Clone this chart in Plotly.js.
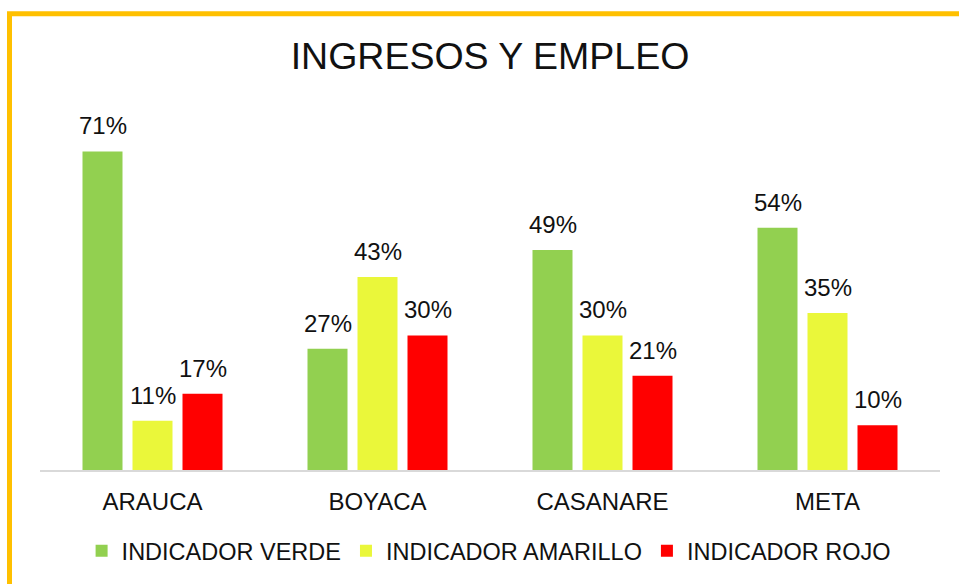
<!DOCTYPE html>
<html>
<head>
<meta charset="utf-8">
<script src="https://cdn.plot.ly/plotly-3.0.1.min.js"></script>
<style>html,body{margin:0;padding:0;background:#fff;}#chart{width:959px;height:584px;}</style>
</head>
<body>
<div id="chart"></div>
<script>
const categories = ["ARAUCA", "BOYACA", "CASANARE", "META"];
const verde = [71, 27, 49, 54];
const amarillo = [11, 43, 30, 35];
const rojo = [17, 30, 21, 10];
const seriesNames = ["INDICADOR VERDE", "INDICADOR AMARILLO", "INDICADOR ROJO"];
const colors = ["#92D050", "#EAF73A", "#FF0000"];

const font = "Liberation Sans, Arial, sans-serif";
const txt = "#111111";
const values = [verde, amarillo, rojo];
const traces = values.map((v, i) => ({
  type: "bar",
  name: seriesNames[i],
  x: categories,
  y: v,
  marker: {color: colors[i]},
  hoverinfo: "none"
}));

// data labels placed at each bar's top, offset within the group
const slot = 2 / 9;
const annotations = [];
values.forEach((v, i) => {
  v.forEach((d, j) => {
    annotations.push({
      x: j + (i - 1) * slot, y: d, xref: "x", yref: "y",
      text: d + "%", showarrow: false,
      xanchor: "center", yanchor: "bottom", yshift: 10,
      font: {size: 24, family: font, color: txt}
    });
  });
});

const L = 40, R = 940, T = 111, B = 471;
const W = 959, H = 584;
const layout = {
  width: W, height: H,
  margin: {l: L, r: W - R, t: T, b: H - B, pad: 0},
  paper_bgcolor: "#fff",
  plot_bgcolor: "#fff",
  barmode: "group",
  bargap: 1/3,
  bargroupgap: 0.2,
  font: {family: font, color: txt},
  title: {
    text: "INGRESOS Y EMPLEO",
    font: {size: 37.5, family: font, color: txt},
    xref: "paper", x: 0.5, xanchor: "center",
    y: 1 - 56/584, yanchor: "middle", yref: "container"
  },
  xaxis: {
    showgrid: false, zeroline: false,
    showline: true, linecolor: "#d9d9d9", linewidth: 1.5,
    ticks: "", tickfont: {size: 24, family: font, color: txt},
    ticklabelstandoff: 10
  },
  yaxis: {range: [0, 80], visible: false, showgrid: false, zeroline: false},
  showlegend: true,
  legend: {
    orientation: "h", x: 0.499, xanchor: "center",
    y: (B - 551) / (B - T), yanchor: "middle",
    font: {size: 23.5, family: font, color: txt},
    itemwidth: 30, traceorder: "normal"
  },
  annotations: annotations,
  shapes: [{
    type: "rect", xref: "paper", yref: "paper",
    x0: (9.5 - L) / (R - L), x1: 3,
    y0: -3, y1: (B - 13.5) / (B - T),
    line: {color: "#FFC000", width: 5}
  }]
};

Plotly.newPlot("chart", traces, layout, {displayModeBar: false, staticPlot: true});
</script>
</body>
</html>
